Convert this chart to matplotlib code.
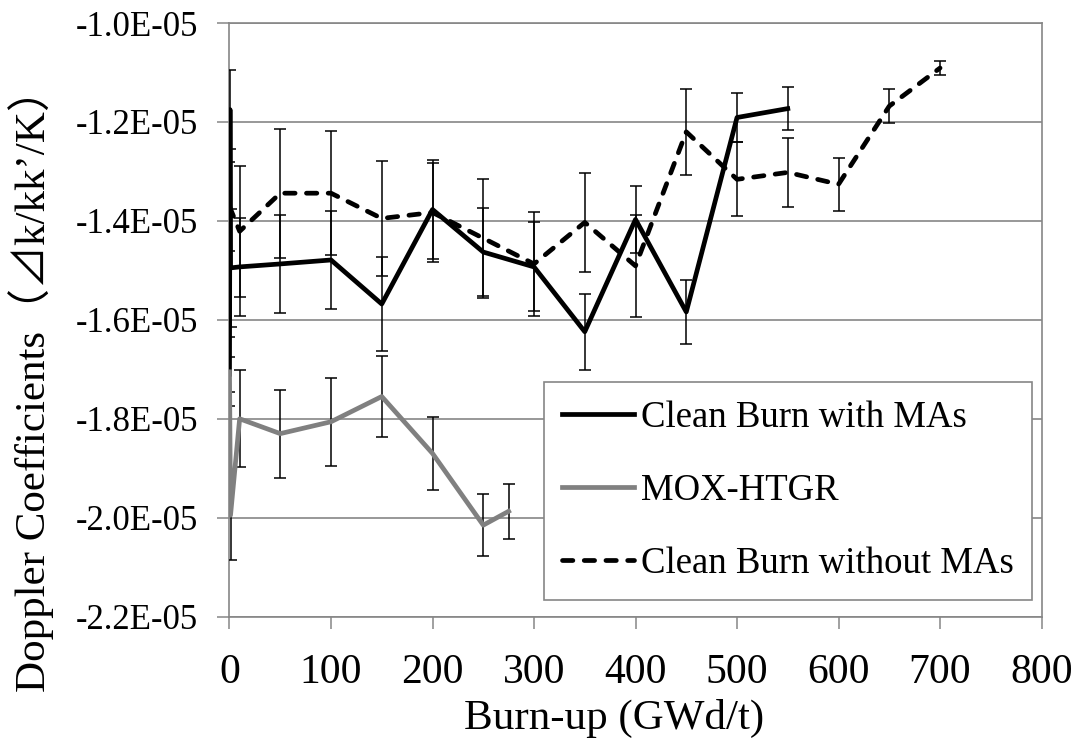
import matplotlib
matplotlib.use("Agg")
import matplotlib.pyplot as plt
import numpy as np

plt.rcParams['font.family'] = ['Liberation Serif', 'Noto Sans CJK JP', 'DejaVu Sans']

# ---- data (values in units of 1E-05 dk/kk'/K) ----
burnup_with = [0, 0.5, 1, 10, 50, 100, 150, 200, 250, 300, 350, 400, 450, 500, 550]
coef_with = [-1.71, -1.175, -1.495, -1.493, -1.487, -1.479, -1.568, -1.377, -1.463,
             -1.493, -1.624, -1.397, -1.584, -1.191, -1.173]
err_with = [0.035, 0.08, 0.12, 0.099, 0.099, 0.10, 0.095, 0.10, 0.089,
            0.09, 0.077, 0.067, 0.065, 0.05, 0.043]

burnup_mox = [0, 1, 10, 50, 100, 150, 200, 250, 275]
coef_mox = [-1.705, -1.995, -1.800, -1.830, -1.806, -1.755, -1.870, -2.015, -1.987]
err_mox = [0.07, 0.09, 0.098, 0.089, 0.089, 0.082, 0.074, 0.062, 0.055]

burnup_without = [0, 10, 50, 100, 150, 200, 250, 300, 350, 400, 450, 500, 550, 600, 650, 700]
coef_without = [-1.371, -1.421, -1.344, -1.344, -1.395, -1.383, -1.435, -1.487, -1.403,
                -1.491, -1.220, -1.316, -1.302, -1.326, -1.168, -1.091]
err_without = [0.09, 0.132, 0.13, 0.125, 0.117, 0.10, 0.12, 0.105, 0.10,
               0.103, 0.087, 0.075, 0.07, 0.054, 0.035, 0.015]

series_labels = ["Clean Burn with MAs", "MOX-HTGR", "Clean Burn without MAs"]
x_ticks = [0, 100, 200, 300, 400, 500, 600, 700, 800]
y_ticks = [-2.2, -2.0, -1.8, -1.6, -1.4, -1.2, -1.0]
y_tick_labels = ["-2.2E-05", "-2.0E-05", "-1.8E-05", "-1.6E-05", "-1.4E-05", "-1.2E-05", "-1.0E-05"]
x_label = "Burn-up (GWd/t)"
y_label = "Doppler Coefficients（⊿k/kk’/K）"

SCALE = 1e-5
GRID = "#868686"
DASH = (0, (2.2, 2.4))

fig = plt.figure(figsize=(10.81, 7.42), dpi=100)
ax = fig.add_axes([0.2123, 0.1689, 0.7512, 0.8001])

def sc(v):
    return np.asarray(v) * SCALE

err_kw = dict(ecolor="black", elinewidth=1.1, capsize=4.3, capthick=1.1)

e1 = ax.errorbar(burnup_with, sc(coef_with), yerr=sc(err_with), color="black", lw=3.4,
                 zorder=3, **err_kw)
e2 = ax.errorbar(burnup_mox, sc(coef_mox), yerr=sc(err_mox), color="#808080", lw=3.4,
                 zorder=3, **err_kw)
e3 = ax.errorbar(burnup_without, sc(coef_without), yerr=sc(err_without), color="black", lw=3.4,
                 linestyle=DASH, zorder=3, **err_kw)
e3[0].set_dash_capstyle('round')

ax.set_xlim(0, 800)
ax.set_ylim(-2.2 * SCALE, -1.0 * SCALE)
ax.set_xticks(x_ticks)
ax.set_xticklabels([str(t) for t in x_ticks], fontsize=30)
ax.set_yticks(sc(y_ticks))
ax.set_yticklabels(y_tick_labels, fontsize=25)
ax.yaxis.grid(True, color=GRID, lw=1.2)
ax.set_axisbelow(True)
for s in ax.spines.values():
    s.set_color(GRID)
    s.set_linewidth(1.2)
ax.tick_params(axis='both', direction='out', length=8.6, width=1.1, color=GRID)
ax.tick_params(axis='y', pad=14)
ax.tick_params(axis='x', pad=18)

fig.text(0.5685, 1 - 729 / 742, x_label, ha='center', va='baseline', fontsize=31)
fig.text(0.029, 1 - 380 / 742, y_label, ha='center', va='center', rotation=90, fontsize=31)

handles = [e1[0], e2[0], e3[0]]
leg = ax.legend(handles, series_labels, loc='upper left',
                bbox_to_anchor=((544 - 229.5) / 812, (616.7 - 382) / 593.7),
                borderaxespad=0, fontsize=26.5, frameon=True, fancybox=False,
                handlelength=1.94, handletextpad=0.2, borderpad=0.5, labelspacing=1.05)
leg.get_frame().set_edgecolor(GRID)
leg.get_frame().set_linewidth(1.2)
leg.get_frame().set_alpha(1)

fig.savefig("out.png", dpi=100)
